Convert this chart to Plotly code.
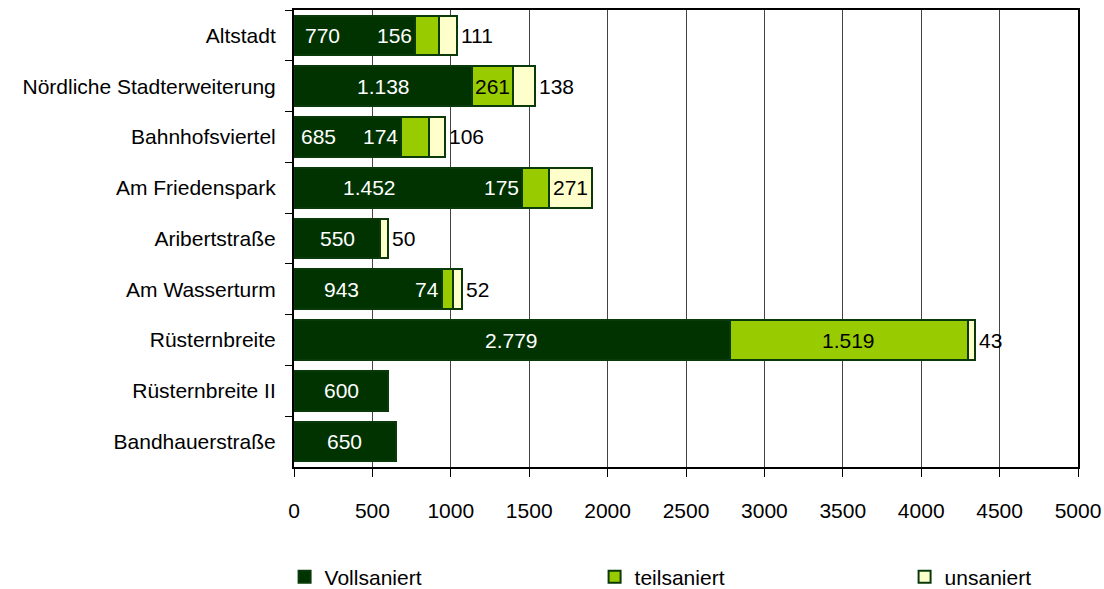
import plotly.graph_objects as go

categories = ["Altstadt", "Nördliche Stadterweiterung", "Bahnhofsviertel", "Am Friedenspark",
              "Aribertstraße", "Am Wasserturm", "Rüsternbreite", "Rüsternbreite II", "Bandhauerstraße"]
vollsaniert = [770, 1138, 685, 1452, 550, 943, 2779, 600, 650]
teilsaniert = [156, 261, 174, 175, 0, 74, 1519, 0, 0]
unsaniert = [111, 138, 106, 271, 50, 52, 43, 0, 0]
x_ticks = [0, 500, 1000, 1500, 2000, 2500, 3000, 3500, 4000, 4500, 5000]

# label styles (not data)
voll_label_frac = [0.24, 0.5, 0.23, 0.33, 0.5, 0.32, 0.5, 0.5, 0.5]
teil_label_mode = ["dark_end", "center", "dark_end", "dark_end", None, "dark_end", "center", None, None]
un_label_mode = ["outside", "outside", "outside", "center", "outside", "outside", "outside", None, None]

FONT = "Liberation Sans, Arial, sans-serif"
FS = 21
C_DARK = "#003300"
C_GREEN = "#99CC00"
C_CREAM = "#FFFFCC"
OUTLINE = dict(color="#0A3A0A", width=2)


def de(n):
    return f"{n:,}".replace(",", ".")


fig = go.Figure()
fig.add_trace(go.Bar(y=categories, x=vollsaniert, name="Vollsaniert", orientation="h",
                     marker=dict(color=C_DARK, line=OUTLINE)))
fig.add_trace(go.Bar(y=categories, x=teilsaniert, name="teilsaniert", orientation="h",
                     marker=dict(color=C_GREEN, line=OUTLINE)))
fig.add_trace(go.Bar(y=categories, x=unsaniert, name="unsaniert", orientation="h",
                     marker=dict(color=C_CREAM, line=OUTLINE)))

ann = []
for i, cat in enumerate(categories):
    v, t, u = vollsaniert[i], teilsaniert[i], unsaniert[i]
    ann.append(dict(x=v * voll_label_frac[i], y=cat, text=de(v), showarrow=False,
                    font=dict(color="white", size=FS, family=FONT), xanchor="center"))
    if teil_label_mode[i] == "dark_end":
        ann.append(dict(x=v, y=cat, text=de(t), showarrow=False, xanchor="right", xshift=-1,
                        font=dict(color="white", size=FS, family=FONT)))
    elif teil_label_mode[i] == "center":
        ann.append(dict(x=v + t / 2, y=cat, text=de(t), showarrow=False, xanchor="center",
                        font=dict(color="black", size=FS, family=FONT)))
    if un_label_mode[i] == "outside":
        ann.append(dict(x=v + t + u, y=cat, text=de(u), showarrow=False, xanchor="left", xshift=2,
                        font=dict(color="black", size=FS, family=FONT)))
    elif un_label_mode[i] == "center":
        ann.append(dict(x=v + t + u / 2, y=cat, text=de(u), showarrow=False, xanchor="center",
                        font=dict(color="black", size=FS, family=FONT)))

fig.update_layout(
    barmode="stack",
    bargap=0.22,
    width=1104, height=589,
    margin=dict(l=294, r=26, t=10, b=122, autoexpand=False),
    paper_bgcolor="white", plot_bgcolor="white",
    font=dict(family=FONT, size=FS, color="black"),
    annotations=ann,
    showlegend=True,
    legend=dict(orientation="h", x=-0.012, xanchor="left", y=-0.241, yanchor="middle",
                entrywidth=265, entrywidthmode="pixels", itemwidth=30,
                font=dict(family=FONT, size=FS, color="black"), traceorder="normal"),
)
fig.update_xaxes(range=[0, 5000], tickvals=x_ticks, ticktext=[str(v) for v in x_ticks],
                 showgrid=True, gridcolor="#444444", gridwidth=1,
                 showline=True, linecolor="black", linewidth=2, mirror=True,
                 ticks="outside", ticklen=8, tickcolor="black", tickwidth=1,
                 ticklabelstandoff=16, zeroline=False, fixedrange=True, automargin=False)
fig.update_yaxes(autorange="reversed", showgrid=False,
                 showline=True, linecolor="black", linewidth=2, mirror=True,
                 ticks="outside", tickson="boundaries", ticklen=7, tickcolor="black", tickwidth=1,
                 ticklabelstandoff=12, fixedrange=True, automargin=False)

fig.write_html("out.html", config={"displayModeBar": False},
               post_script="document.body.style.margin='0px';")
